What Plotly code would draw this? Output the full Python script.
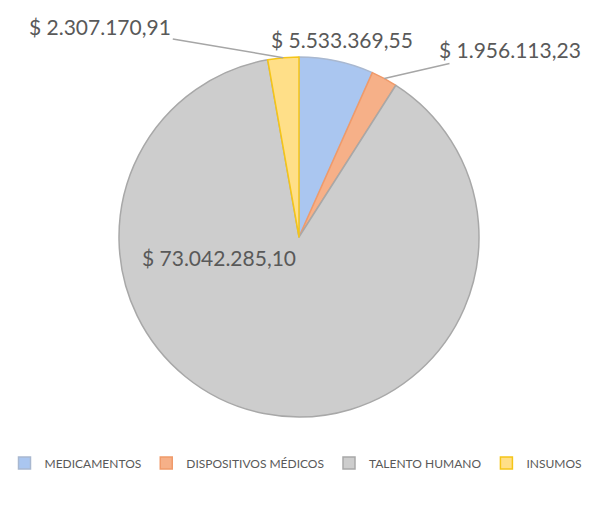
import numpy as np
import plotly.graph_objects as go

categories = ["MEDICAMENTOS", "DISPOSITIVOS MÉDICOS", "TALENTO HUMANO", "INSUMOS"]
values = [5533369.55, 1956113.23, 73042285.10, 2307170.91]
value_labels = ["$ 5.533.369,55", "$ 1.956.113,23", "$ 73.042.285,10", "$ 2.307.170,91"]

fill_colors = ["#AAC6F0", "#F6B088", "#CDCDCD", "#FFDF88"]
line_colors = ["#A9B8D0", "#F09A6A", "#A8A8A8", "#F5C518"]

W, H = 592, 508
CX, CY, R = 299, 237, 180   # pie centre / radius in figure pixels

fig = go.Figure(go.Pie(
    labels=categories,
    values=values,
    sort=False,
    direction="clockwise",
    rotation=0,
    textinfo="none",
    hoverinfo="label+value",
    marker=dict(colors=fill_colors, line=dict(color=line_colors, width=1.5)),
    domain=dict(x=[(CX - R) / W, (CX + R) / W], y=[(H - CY - R) / H, (H - CY + R) / H]),
))

# slice mid angles (clockwise from 12 o'clock) derived from the data
v = np.array(values)
cum = np.cumsum(v) / v.sum()
mid = (cum - v / v.sum() / 2) * 2 * np.pi

def edge(i, k=1.0):
    a = mid[i]
    px = CX + k * R * np.sin(a)
    py = CY - k * R * np.cos(a)
    return px / W, 1 - py / H

font = dict(family="Lato, sans-serif", size=21, color="#595959")
ann = []
# MEDICAMENTOS: above the slice, no leader
x0, y0 = edge(0)
ann.append(dict(x=x0, y=y0, xref="paper", yref="paper", text=value_labels[0], showarrow=False,
                xshift=6, yshift=36, font=font))
# DISPOSITIVOS MÉDICOS: outside right, with leader line
x1, y1 = edge(1)
ann.append(dict(x=x1, y=y1, xref="paper", yref="paper", text=value_labels[1], showarrow=True,
                arrowhead=0, arrowwidth=1.5, arrowcolor="#A6A6A6", ax=126, ay=-29, font=font))
# TALENTO HUMANO: inside, left of centre
ann.append(dict(x=CX / W, y=1 - CY / H, xref="paper", yref="paper", text=value_labels[2], showarrow=False,
                xshift=-80, yshift=-20, font=font))
# INSUMOS: outside top-left, with leader line
x3, y3 = edge(3)
ann.append(dict(x=x3, y=y3, xref="paper", yref="paper", text=value_labels[3], showarrow=True,
                arrowhead=0, arrowwidth=1.5, arrowcolor="#A6A6A6", ax=-183, ay=-31, font=font))

fig.update_layout(
    width=W, height=H,
    margin=dict(l=0, r=0, t=0, b=0, autoexpand=False),
    paper_bgcolor="white",
    plot_bgcolor="white",
    showlegend=True,
    legend=dict(orientation="h", x=0.5, xanchor="center", y=45 / H, yanchor="middle",
                font=dict(family="Lato, sans-serif", size=12, color="#595959"),
                itemwidth=30, tracegroupgap=0),
    annotations=ann,
)

fig.write_html("out.html", config={"displayModeBar": False},
               post_script="document.body.style.margin='0';")
